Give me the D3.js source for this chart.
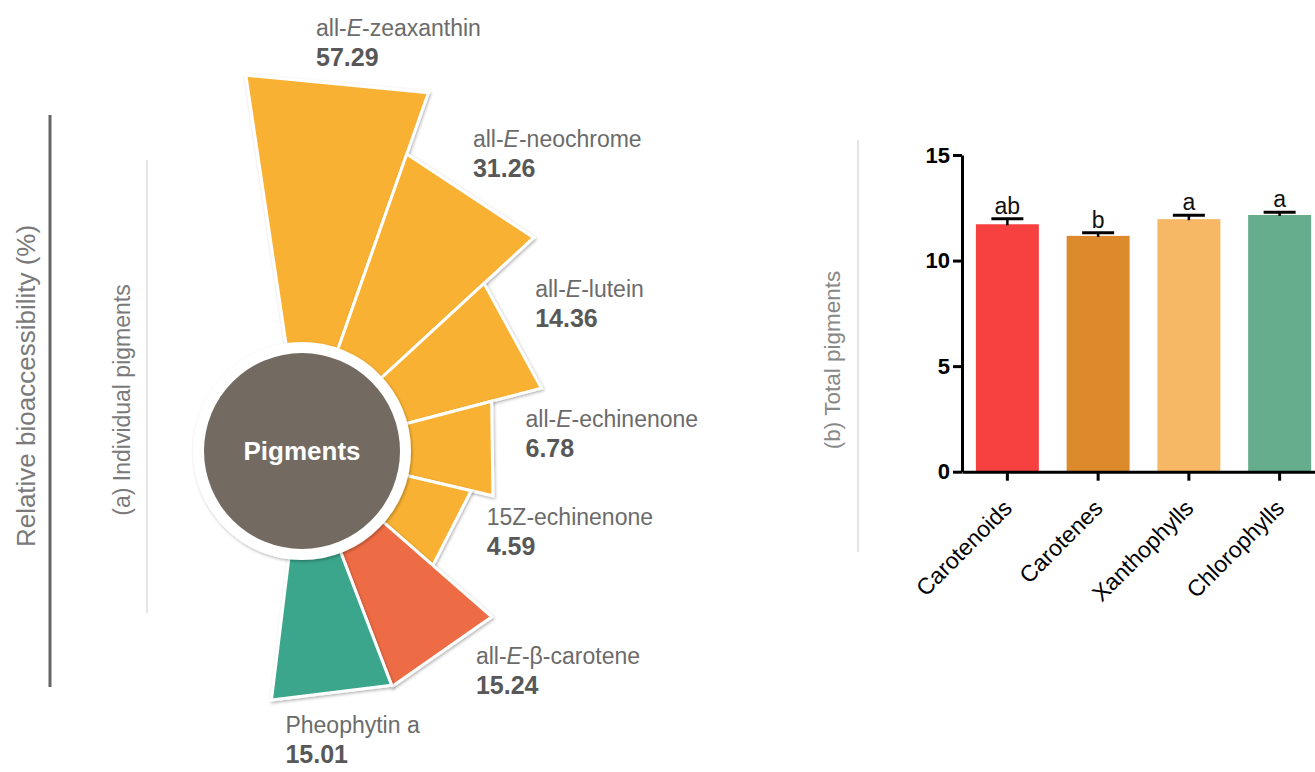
<!DOCTYPE html>
<html>
<head>
<meta charset="utf-8">
<script src="https://cdn.jsdelivr.net/npm/d3@7"></script>
<style>
  body { margin: 0; background: #fff; }
  text { font-family: "Liberation Sans", Arial, sans-serif; }
</style>
</head>
<body>
<div id="chart"></div>
<script>
// (a) individual pigments, relative bioaccessibility (%)
const pigmentNames = ["all-E-zeaxanthin", "all-E-neochrome", "all-E-lutein", "all-E-echinenone",
                      "15Z-echinenone", "all-E-β-carotene", "Pheophytin a"];
const pigmentValues = [57.29, 31.26, 14.36, 6.78, 4.59, 15.24, 15.01];
const pigmentGroups = ["xanthophyll", "xanthophyll", "xanthophyll", "xanthophyll",
                       "xanthophyll", "carotene", "chlorophyll"];

// (b) total pigments
const totalGroups = ["Carotenoids", "Carotenes", "Xanthophylls", "Chlorophylls"];
const totalMeans = [11.72, 11.17, 11.96, 12.16];
const totalErrors = [0.26, 0.15, 0.19, 0.13];
const totalLetters = ["ab", "b", "a", "a"];
const yTicks = [0, 5, 10, 15];

const width = 1315, height = 772;
const center = {x: 302, y: 451};
const deg = Math.PI / 180;

const svg = d3.select("#chart").append("svg").attr("width", width).attr("height", height);

const shadow = svg.append("defs").append("filter")
    .attr("id", "shadow").attr("x", "-10%").attr("y", "-10%").attr("width", "120%").attr("height", "120%");
shadow.append("feDropShadow")
    .attr("dx", 1).attr("dy", 1.5).attr("stdDeviation", 1.5)
    .attr("flood-color", "#000").attr("flood-opacity", 0.3);

// ---------- (a) fan of pigments ----------
const pigments = pigmentNames.map((name, i) => ({name, value: pigmentValues[i], group: pigmentGroups[i]}));

const angle = d3.scaleBand().domain(pigmentNames).range([-8.5 * deg, 187 * deg]);
const radius = d3.scalePow().exponent(0.31).domain([0, d3.max(pigmentValues)]).range([0, 380]);
const pigmentColor = d3.scaleOrdinal()
    .domain(["xanthophyll", "carotene", "chlorophyll"])
    .range(["#F8B133", "#EE6C45", "#3BA68C"]);

const wedge = d => {
  const a0 = angle(d.name), a1 = a0 + angle.bandwidth(), r = radius(d.value);
  return "M0,0L" + d3.pointRadial(a0, r) + "L" + d3.pointRadial(a1, r) + "Z";
};

const fan = svg.append("g").attr("transform", `translate(${center.x},${center.y})`);

fan.selectAll("path.wedge")
  .data(pigments)
  .join("path")
    .attr("class", "wedge")
    .attr("d", wedge)
    .attr("fill", d => pigmentColor(d.group))
    .attr("stroke", "#fff")
    .attr("stroke-width", 3)
    .attr("filter", "url(#shadow)");

fan.append("circle").attr("r", 109).attr("fill", "#fff").attr("filter", "url(#shadow)");
fan.append("circle").attr("r", 98).attr("fill", "#736A62");
fan.append("text")
    .attr("text-anchor", "middle")
    .attr("dy", "0.35em")
    .attr("fill", "#fff")
    .attr("font-weight", "bold")
    .attr("font-size", 26)
    .text("Pigments");

// labels sit just outside each wedge, a little ahead of its mid angle;
// a wedge pointing straight down gets its label hung under its outer corner
const labelPos = d => {
  const a = angle(d.name) + angle.bandwidth() / 2 - 3.5 * deg;
  if (Math.cos(a) < -0.95) {
    const c = d3.pointRadial(angle(d.name) + angle.bandwidth(), radius(d.value));
    return [c[0] + 14, c[1] + 33];
  }
  const p = d3.pointRadial(a, radius(d.value) + 28);
  return [p[0], p[1] - 7];
};

const labels = fan.selectAll("g.label")
  .data(pigments)
  .join("g")
    .attr("class", "label")
    .attr("transform", d => `translate(${labelPos(d)})`);

const nameText = labels.append("text")
    .attr("font-size", 23)
    .attr("fill", "#6b6b6b");
nameText.each(function(d) {
  const t = d3.select(this);
  if (d.name.startsWith("all-E-")) {
    t.append("tspan").text("all-");
    t.append("tspan").attr("font-style", "italic").text("E");
    t.append("tspan").text(d.name.slice(5));
  } else {
    t.text(d.name);
  }
});

labels.append("text")
    .attr("y", 30)
    .attr("font-size", 25)
    .attr("font-weight", "bold")
    .attr("fill", "#585858")
    .text(d => d3.format(".2f")(d.value));

// side titles and rules
svg.append("text")
    .attr("transform", "translate(26,386) rotate(-90)")
    .attr("text-anchor", "middle").attr("dy", "0.35em")
    .attr("font-size", 26).attr("fill", "#7a7a7a")
    .text("Relative bioaccessibility (%)");
svg.append("line").attr("x1", 50).attr("x2", 50).attr("y1", 115).attr("y2", 687)
    .attr("stroke", "#666").attr("stroke-width", 3);

svg.append("text")
    .attr("transform", "translate(122,400) rotate(-90)")
    .attr("text-anchor", "middle").attr("dy", "0.35em")
    .attr("font-size", 23).attr("fill", "#7a7a7a")
    .text("(a) Individual pigments");
svg.append("line").attr("x1", 147).attr("x2", 147).attr("y1", 160).attr("y2", 613)
    .attr("stroke", "#ddd").attr("stroke-width", 1.5);

svg.append("text")
    .attr("transform", "translate(832,360) rotate(-90)")
    .attr("text-anchor", "middle").attr("dy", "0.35em")
    .attr("font-size", 22.5).attr("fill", "#888")
    .text("(b) Total pigments");
svg.append("line").attr("x1", 858).attr("x2", 858).attr("y1", 140).attr("y2", 552)
    .attr("stroke", "#ddd").attr("stroke-width", 1.5);

// ---------- (b) bar chart ----------
const totals = totalGroups.map((g, i) => ({group: g, mean: totalMeans[i], err: totalErrors[i], letter: totalLetters[i]}));

const y = d3.scaleLinear().domain([0, 15]).range([471.7, 155]);
const x = d3.scaleBand().domain(totalGroups).range([962, 1325]).paddingInner(0.306).paddingOuter(0.153);
const barColor = d3.scaleOrdinal().domain(totalGroups).range(["#F74141", "#DC8A2C", "#F6B865", "#66AD8E"]);

const bars = svg.append("g");

bars.selectAll("rect")
  .data(totals)
  .join("rect")
    .attr("x", d => x(d.group))
    .attr("y", d => y(d.mean))
    .attr("width", x.bandwidth())
    .attr("height", d => y(0) - y(d.mean))
    .attr("fill", d => barColor(d.group));

const cx = d => x(d.group) + x.bandwidth() / 2;

bars.selectAll("line.stem")
  .data(totals)
  .join("line")
    .attr("class", "stem")
    .attr("x1", cx).attr("x2", cx)
    .attr("y1", d => y(d.mean) + 1).attr("y2", d => y(d.mean + d.err))
    .attr("stroke", "#000").attr("stroke-width", 2.5);

bars.selectAll("line.cap")
  .data(totals)
  .join("line")
    .attr("class", "cap")
    .attr("x1", d => cx(d) - 16).attr("x2", d => cx(d) + 16)
    .attr("y1", d => y(d.mean + d.err)).attr("y2", d => y(d.mean + d.err))
    .attr("stroke", "#000").attr("stroke-width", 3);

bars.selectAll("text.letter")
  .data(totals)
  .join("text")
    .attr("class", "letter")
    .attr("x", cx)
    .attr("y", d => y(d.mean + d.err) - 5)
    .attr("text-anchor", "middle")
    .attr("font-size", 23)
    .attr("fill", "#111")
    .text(d => d.letter);

const yAxis = svg.append("g")
    .attr("transform", "translate(962,0)")
    .call(d3.axisLeft(y).tickValues(yTicks).tickSize(9).tickSizeOuter(0).tickPadding(3));
yAxis.select(".domain").attr("stroke", "#000").attr("stroke-width", 3);
yAxis.selectAll(".tick line").attr("stroke", "#000").attr("stroke-width", 3);
yAxis.selectAll(".tick text")
    .attr("font-family", "Liberation Sans, Arial, sans-serif")
    .attr("font-size", 22).attr("font-weight", "bold").attr("fill", "#000");

const xAxis = svg.append("g")
    .attr("transform", `translate(0,${y(0)})`)
    .call(d3.axisBottom(x).tickSize(9).tickSizeOuter(0));
xAxis.select(".domain").attr("stroke", "#000").attr("stroke-width", 3);
xAxis.selectAll(".tick line").attr("stroke", "#000").attr("stroke-width", 3);
xAxis.selectAll(".tick text")
    .attr("font-family", "Liberation Sans, Arial, sans-serif")
    .attr("font-size", 23).attr("fill", "#000")
    .attr("text-anchor", "end")
    .attr("dy", null).attr("y", null)
    .attr("transform", "translate(6,38) rotate(-45)");
</script>
</body>
</html>
